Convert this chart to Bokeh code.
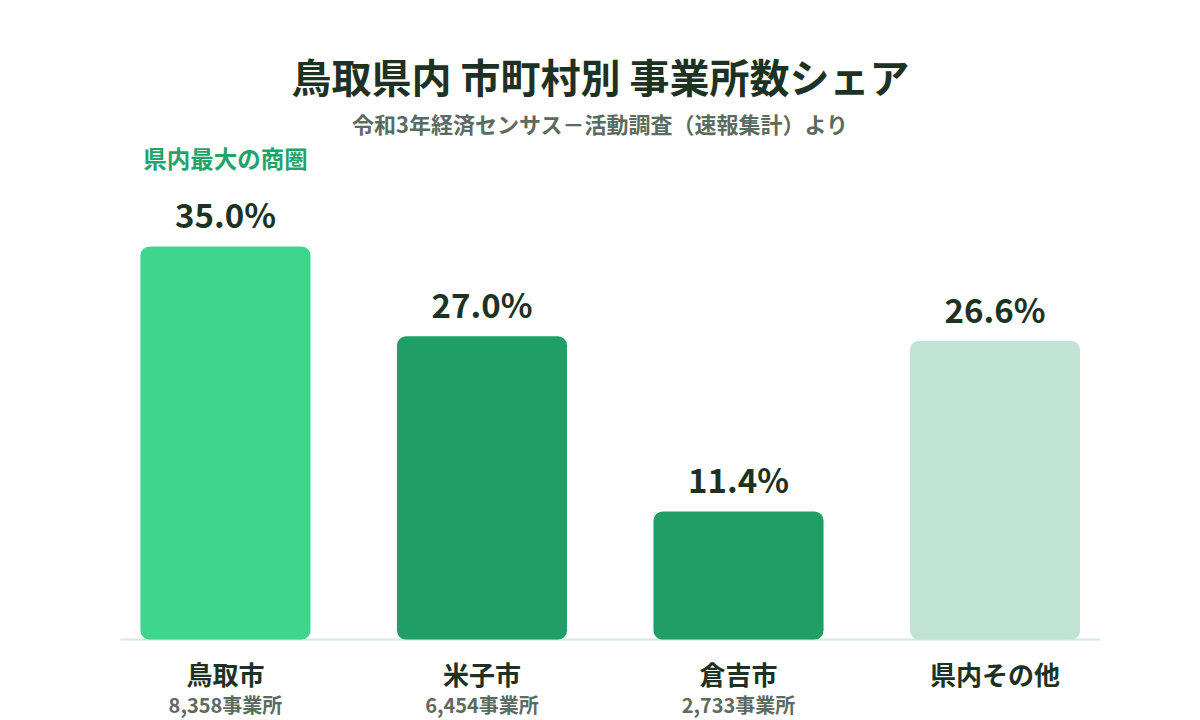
from bokeh.plotting import figure
from bokeh.models import ColumnDataSource, Label, Range1d
from bokeh.core.properties import value
from bokeh.embed import file_html
from bokeh.resources import INLINE

# data
areas = ["鳥取市", "米子市", "倉吉市", "県内その他"]
shares = [35.0, 27.0, 11.4, 26.6]
counts = ["8,358事業所", "6,454事業所", "2,733事業所", ""]
bar_colors = ["#3dd68c", "#1f9e66", "#1f9e66", "#c0e3d4"]

title_text = "鳥取県内 市町村別 事業所数シェア"
subtitle_text = "令和3年経済センサス－活動調査（速報集計）より"
note_text = "県内最大の商圏"

FONT = "Noto Sans CJK JP"
DARK = "#1e3224"
GREY = "#5c6b61"

xs = list(range(len(areas)))
source = ColumnDataSource(dict(
    x=xs,
    share=shares,
    pct=["%.1f%%" % s for s in shares],
    area=areas,
    count=counts,
    color=bar_colors,
))

p = figure(width=1200, height=720, output_backend="svg", toolbar_location=None,
           x_range=Range1d(-0.877, 3.801), y_range=Range1d(-7.21, 56.90),
           x_axis_location=None, y_axis_location=None, min_border=0)
p.grid.visible = False
p.outline_line_color = None
p.background_fill_color = "white"
p.border_fill_color = "white"

# baseline
p.segment(x0=[-0.41], y0=[0], x1=[len(areas) - 1 + 0.41], y1=[0],
          line_color="#d2eadf", line_width=2)

# bars
p.vbar(x="x", top="share", bottom=0, width=0.663, source=source,
       fill_color="color", line_color=None, border_radius=9)

# value labels above the bars
p.text(x="x", y="share", text="pct", source=source, y_offset=-32,
       text_align="center", text_baseline="middle", text_color=DARK,
       text_font=value(FONT), text_font_style="bold", text_font_size="33px")

# category labels under the baseline
p.text(x="x", y=0, text="area", source=source, y_offset=34,
       text_align="center", text_baseline="middle", text_color=DARK,
       text_font=value(FONT), text_font_style="bold", text_font_size="26px")
p.text(x="x", y=0, text="count", source=source, y_offset=65,
       text_align="center", text_baseline="middle", text_color=GREY,
       text_font=value(FONT), text_font_style="bold", text_font_size="20px")

# titles
p.add_layout(Label(x=600, y=645, x_units="screen", y_units="screen", text=title_text,
                   text_align="center", text_baseline="middle", text_color=DARK,
                   text_font=FONT, text_font_style="bold", text_font_size="40px"))
p.add_layout(Label(x=600, y=598, x_units="screen", y_units="screen", text=subtitle_text,
                   text_align="center", text_baseline="middle", text_color=GREY,
                   text_font=FONT, text_font_style="bold", text_font_size="22px"))
p.add_layout(Label(x=0, y=563, x_units="data", y_units="screen", text=note_text,
                   text_align="center", text_baseline="middle", text_color="#1fa56b",
                   text_font=FONT, text_font_style="bold", text_font_size="23.5px"))

open("out.html", "w").write(file_html(p, INLINE))
